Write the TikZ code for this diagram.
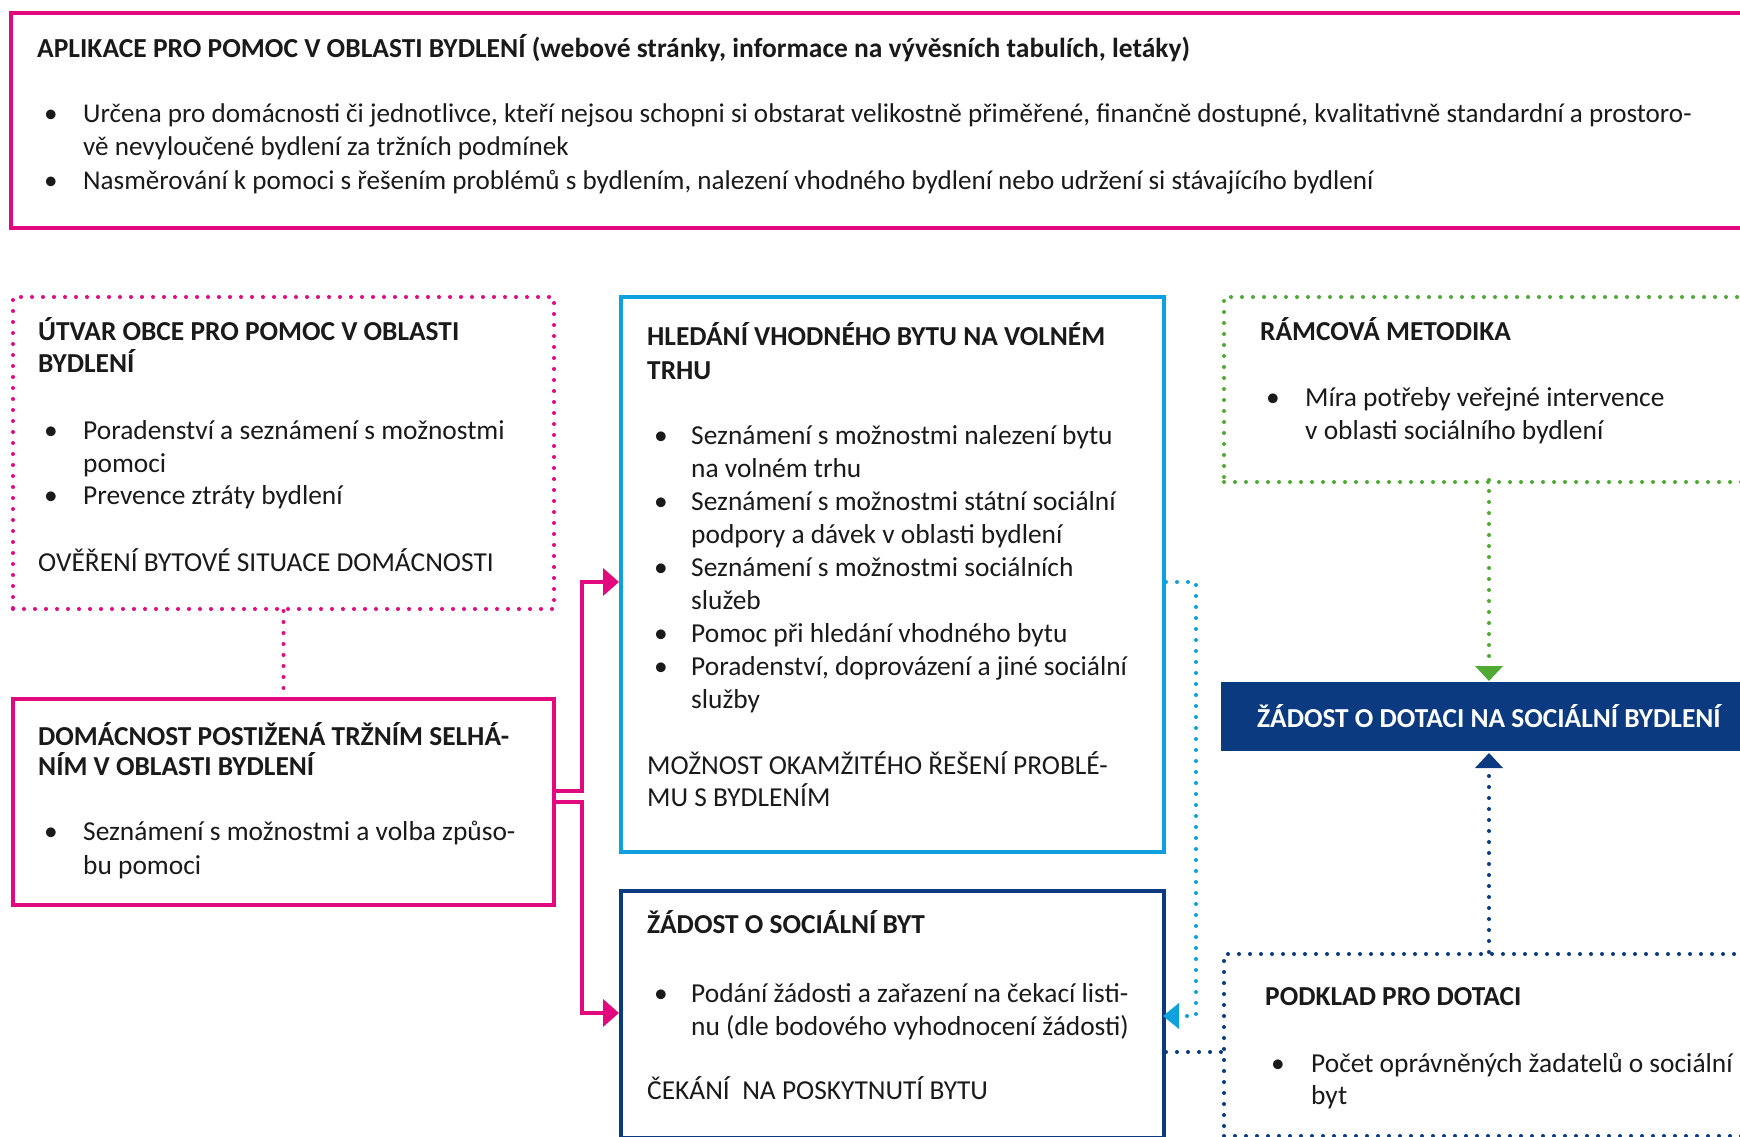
\documentclass[tikz,border=0pt]{standalone}
\usepackage{fontspec}
\setmainfont{Carlito}
\newfontfamily\condfont[FakeStretch=1.0]{Carlito}
\usetikzlibrary{arrows.meta}
\definecolor{cpink}{HTML}{E2097F}
\definecolor{clblue}{HTML}{0FA0DE}
\definecolor{cdblue}{HTML}{0B3A80}
\definecolor{cgreen}{HTML}{4FA934}
\definecolor{ctext}{HTML}{1A1A1A}
\begin{document}
\begin{tikzpicture}[x=1pt,y=-1pt,
  txt/.style={inner sep=0pt, anchor=base west, text=ctext, font=\fontsize{27.4}{32}\selectfont},
  ttl/.style={txt, font=\fontsize{27.4}{32}\selectfont\bfseries},
  ctxt/.style={inner sep=0pt, anchor=base west, text=ctext, font=\condfont\fontsize{27.1}{32}\selectfont},
  cttl/.style={ctxt, font=\condfont\fontsize{27.5}{32}\selectfont\bfseries},
  boxn/.style={draw, inner sep=0pt, anchor=north west, line width=4pt},
  dotbox/.style={draw, inner sep=0pt, anchor=north west, line width=4pt, line cap=round, dash pattern=on 0pt off 11pt},
  dotline/.style={line width=4pt, line cap=round, dash pattern=on 0pt off 11pt},
  solidline/.style={line width=4pt},
  tipbig/.style={-{Triangle[length=16pt,width=27pt]}},
]
\clip (0,0) rectangle (1740,1137);
\fill[white] (0,0) rectangle (1740,1137);

% ---------- top box ----------
\node[boxn, draw=cpink, minimum width=1780pt, minimum height=215pt] (top) at (9,11) {};
\node[cttl] (t0) at (37,58) {APLIKACE PRO POMOC V OBLASTI BYDLENÍ (webové stránky, informace na vývěsních tabulích, letáky)};
\node[ctxt] (tb1) at (44,123) {\textbullet};
\node[ctxt] (t1) at (83,123) {Určena pro domácnosti či jednotlivce, kteří nejsou schopni si obstarat velikostně přiměřené, finančně dostupné, kvalitativně standardní a prostoro-};
\node[ctxt] (t2) at (83,156) {vě nevyloučené bydlení za tržních podmínek};
\node[ctxt] (tb3) at (44,189) {\textbullet};
\node[ctxt] (t3) at (83,189) {Nasměrování k pomoci s řešením problémů s bydlením, nalezení vhodného bydlení nebo udržení si stávajícího bydlení};

% ---------- ÚTVAR ----------
\node[dotbox, draw=cpink, minimum width=541pt, minimum height=312pt] (utvar) at (11,295) {};
\node[ttl] (u0) at (38,340) {ÚTVAR OBCE PRO POMOC V OBLASTI};
\node[ttl] (u1) at (38,372) {BYDLENÍ};
\node[txt] (ub2) at (44,439) {\textbullet};
\node[txt] (u2) at (83,439) {Poradenství a seznámení s možnostmi};
\node[txt] (u3) at (83,472) {pomoci};
\node[txt] (ub4) at (44,504) {\textbullet};
\node[txt] (u4) at (83,504) {Prevence ztráty bydlení};
\node[txt] (u5) at (38,571) {OVĚŘENÍ BYTOVÉ SITUACE DOMÁCNOSTI};

% ---------- DOMÁCNOST ----------
\node[boxn, draw=cpink, minimum width=541pt, minimum height=206pt] (domac) at (11,697) {};
\node[ttl] (d0) at (38,745) {DOMÁCNOST POSTIŽENÁ TRŽNÍM SELHÁ-};
\node[ttl] (d1) at (38,775) {NÍM V OBLASTI BYDLENÍ};
\node[txt] (db2) at (44,840) {\textbullet};
\node[txt] (d2) at (83,840) {Seznámení s možnostmi a volba způso-};
\node[txt] (d3) at (83,874) {bu pomoci};

% ---------- HLEDÁNÍ ----------
\node[boxn, draw=clblue, minimum width=543pt, minimum height=555pt] (hled) at (619,295) {};
\node[ttl] (h0) at (647,345) {HLEDÁNÍ VHODNÉHO BYTU NA VOLNÉM};
\node[ttl] (h1) at (647,379) {TRHU};
\node[txt] (hb2) at (654,444) {\textbullet};
\node[txt] (h2) at (691,444) {Seznámení s možnostmi nalezení bytu};
\node[txt] (h3) at (691,477) {na volném trhu};
\node[txt] (hb4) at (654,510) {\textbullet};
\node[txt] (h4) at (691,510) {Seznámení s možnostmi státní sociální};
\node[txt] (h5) at (691,543) {podpory a dávek v oblasti bydlení};
\node[txt] (hb6) at (654,576) {\textbullet};
\node[txt] (h6) at (691,576) {Seznámení s možnostmi sociálních};
\node[txt] (h7) at (691,609) {služeb};
\node[txt] (hb8) at (654,642) {\textbullet};
\node[txt] (h8) at (691,642) {Pomoc při hledání vhodného bytu};
\node[txt] (hb9) at (654,675) {\textbullet};
\node[txt] (h9) at (691,675) {Poradenství, doprovázení a jiné sociální};
\node[txt] (h10) at (691,708) {služby};
\node[txt] (h11) at (647,774) {MOŽNOST OKAMŽITÉHO ŘEŠENÍ PROBLÉ-};
\node[txt] (h12) at (647,806) {MU S BYDLENÍM};

% ---------- ŽÁDOST O SOCIÁLNÍ BYT ----------
\node[boxn, draw=cdblue, minimum width=543pt, minimum height=247pt] (zbyt) at (619,889) {};
\node[ttl] (z0) at (647,933) {ŽÁDOST O SOCIÁLNÍ BYT};
\node[txt] (zb1) at (654,1002) {\textbullet};
\node[txt] (z1) at (691,1002) {Podání žádosti a zařazení na čekací listi-};
\node[txt] (z2) at (691,1035) {nu (dle bodového vyhodnocení žádosti)};
\node[txt] (z3) at (647,1099) {ČEKÁNÍ\ \ NA POSKYTNUTÍ BYTU};

% ---------- RÁMCOVÁ METODIKA ----------
\node[dotbox, draw=cgreen, minimum width=560pt, minimum height=185pt] (ram) at (1222,295) {};
\node[ttl] (r0) at (1260,340) {RÁMCOVÁ METODIKA};
\node[txt] (rb1) at (1266,406) {\textbullet};
\node[txt] (r1) at (1305,406) {Míra potřeby veřejné intervence};
\node[txt] (r2) at (1305,439) {v oblasti sociálního bydlení};

% ---------- ŽÁDOST O DOTACI ----------
\node[draw=none, fill=cdblue, inner sep=0pt, anchor=north west, minimum width=560pt, minimum height=69pt] (dot) at (1221,682) {};
\node[ttl, text=white] (dt) at (1257,727) {ŽÁDOST O DOTACI NA SOCIÁLNÍ BYDLENÍ};

% ---------- PODKLAD ----------
\node[dotbox, draw=cdblue, minimum width=560pt, minimum height=182pt] (podk) at (1222,952) {};
\node[ttl] (p0) at (1265,1005) {PODKLAD PRO DOTACI};
\node[txt] (pb1) at (1271,1072) {\textbullet};
\node[txt] (p1) at (1311,1072) {Počet oprávněných žadatelů o sociální};
\node[txt] (p2) at (1311,1104) {byt};

% ---------- connectors ----------
\draw[dotline, draw=cpink] (utvar.south) -- (domac.north);

\coordinate (j1) at (582,791);
\coordinate (j2) at (582,802);
\coordinate (a1) at (619,582);
\coordinate (a2) at (619,1013);
\draw[solidline, draw=cpink, tipbig] (j1 -| domac.east) -- (j1) |- (a1);
\draw[solidline, draw=cpink, tipbig] (j2 -| domac.east) -- (j2) |- (a2);

\coordinate (b1) at (1166,582);
\coordinate (b2) at (1196,1016);
\coordinate (b3) at (1163,1016);
\draw[dotline, draw=clblue] (b1) -| (b2) -- (1184,1016);
\fill[clblue] (b3) -- (1179,1003) -- (1179,1029) -- cycle;

\coordinate (c1) at (1166,1052);
\coordinate (c2) at (1222,1052);
\draw[dotline, draw=cdblue] (c1) -- (c2);

\coordinate (g1) at (1489,480);
\coordinate (g2) at (1489,664);
\draw[dotline, draw=cgreen] (g1) -- (g2);
\fill[cgreen] (1489,681) -- (1475,666) -- (1503,666) -- cycle;

\coordinate (k1) at (1489,952);
\coordinate (k2) at (1489,772);
\draw[dotline, draw=cdblue] (k1) -- (k2);
\fill[cdblue] (1489,753) -- (1475,768) -- (1503,768) -- cycle;
\end{tikzpicture}
\end{document}
